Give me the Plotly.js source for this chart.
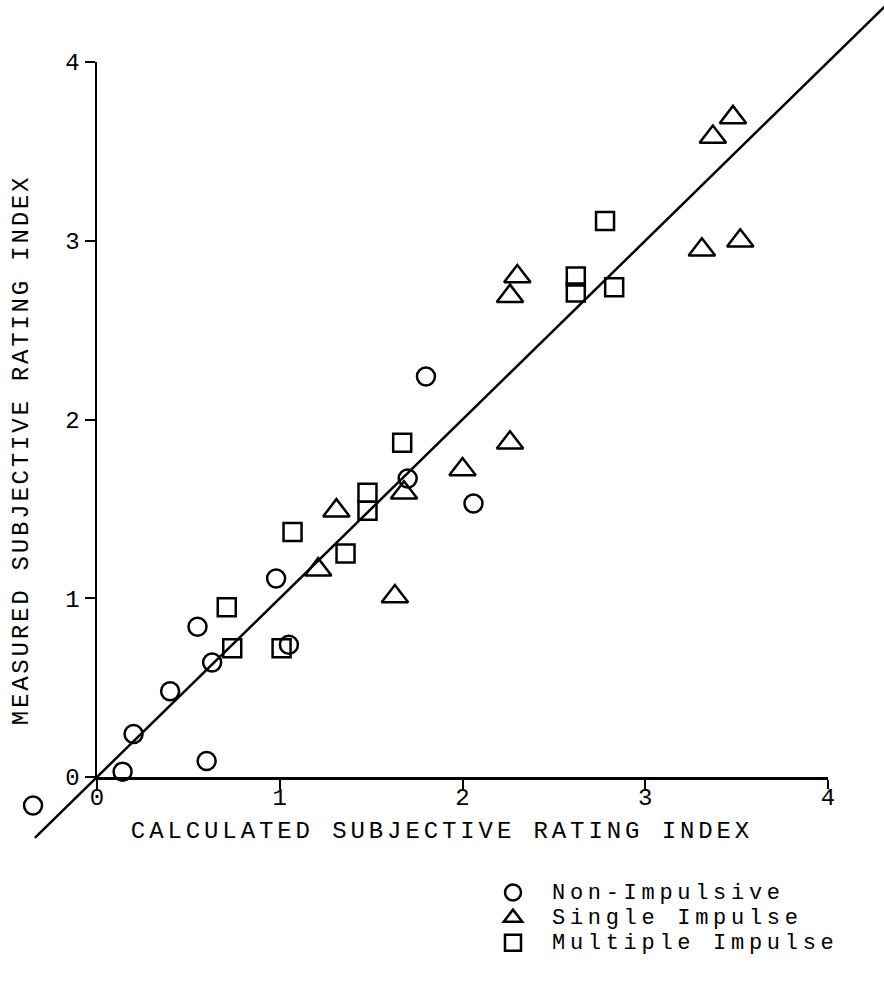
<!DOCTYPE html>
<html>
<head>
<meta charset="utf-8">
<script src="https://cdn.plot.ly/plotly-3.0.1.min.js"></script>
<style>
  html, body { margin: 0; padding: 0; background: #ffffff; }
  #chart { width: 884px; height: 987px; }
  .xtitle { letter-spacing: 3.9px; }
  .ytitle { letter-spacing: 2.8px; }
  .legendtext { letter-spacing: 4.7px; font-size: 22px !important; }
</style>
</head>
<body>
<div id="chart"></div>
<script>
// ---------------- data ----------------
const seriesNames = ["Non-Impulsive", "Single Impulse", "Multiple Impulse"];

const nonImpulsiveX = [-0.35, 0.14, 0.20, 0.40, 0.63, 0.55, 0.60, 0.98, 1.05, 1.80, 1.70, 2.06];
const nonImpulsiveY = [-0.16, 0.03, 0.24, 0.48, 0.64, 0.84, 0.09, 1.11, 0.74, 2.24, 1.67, 1.53];

const singleImpulseX = [1.21, 1.31, 1.63, 1.68, 2.00, 2.26, 2.26, 2.30, 3.31, 3.52, 3.37, 3.48];
const singleImpulseY = [1.16, 1.49, 1.01, 1.59, 1.72, 1.87, 2.69, 2.80, 2.95, 3.00, 3.58, 3.69];

const multipleImpulseX = [0.71, 0.74, 1.01, 1.07, 1.36, 1.48, 1.48, 1.67, 2.62, 2.62, 2.78, 2.83];
const multipleImpulseY = [0.95, 0.72, 0.72, 1.37, 1.25, 1.59, 1.49, 1.87, 2.80, 2.71, 3.11, 2.74];

// line of equality (measured = calculated)
const equalityLineX = [-0.34, 4.33];
const equalityLineY = [-0.34, 4.33];

const tickValues = [0, 1, 2, 3, 4];
const tickLabels = ["0", "1", "2", "3", "4"];

const xTitle = "CALCULATED SUBJECTIVE RATING INDEX";
const yTitle = "MEASURED SUBJECTIVE RATING INDEX";

// ---------------- geometry (pixels) ----------------
const W = 884, H = 987;
const M = { l: 0, r: 0, t: 0, b: 87 };
const PW = W - M.l - M.r, PH = H - M.t - M.b;
const frameLeft = 97, frameRight = 828;   // x = 0 .. 4
const frameBottom = 777, frameTop = 62;   // y = 0 .. 4
const ax = { min: 0, max: 4 };
const pxPerX = (frameRight - frameLeft) / (ax.max - ax.min);
const pxPerY = (frameBottom - frameTop) / (ax.max - ax.min);

const mainXRange = [-frameLeft / pxPerX, (PW - frameLeft) / pxPerX];
const mainYRange = [(frameBottom - PH) / pxPerY, frameBottom / pxPerY];

const font = "Liberation Mono, Courier New, monospace";
const ink = "#000000";

const markerBase = (sym, size) => ({
  symbol: sym, size: size, color: ink,
  line: { color: ink, width: 2.5 }
});

const traces = [
  {
    type: "scatter", mode: "lines", x: equalityLineX, y: equalityLineY,
    line: { color: ink, width: 2.5 }, showlegend: false, hoverinfo: "skip",
    xaxis: "x", yaxis: "y"
  },
  {
    type: "scatter", mode: "markers", name: seriesNames[0],
    x: nonImpulsiveX, y: nonImpulsiveY, marker: markerBase("circle-open", 18),
    xaxis: "x", yaxis: "y"
  },
  {
    type: "scatter", mode: "markers", name: seriesNames[1],
    x: singleImpulseX, y: singleImpulseY, marker: markerBase("triangle-up-open", 23),
    xaxis: "x", yaxis: "y"
  },
  {
    type: "scatter", mode: "markers", name: seriesNames[2],
    x: multipleImpulseX, y: multipleImpulseY, marker: markerBase("square-open", 18),
    xaxis: "x", yaxis: "y"
  },
  {
    type: "scatter", mode: "markers", x: [], y: [], showlegend: false,
    hoverinfo: "skip", xaxis: "x2", yaxis: "y2"
  }
];

const tickFont = { family: font, size: 24, color: ink };

const layout = {
  width: W, height: H,
  margin: M,
  paper_bgcolor: "#ffffff",
  plot_bgcolor: "rgba(0,0,0,0)",
  showlegend: true,
  font: { family: font, color: ink },
  xaxis: {
    domain: [0, 1], range: mainXRange, anchor: "free",
    position: (PH - 815) / PH,
    showline: false, showgrid: false, zeroline: false,
    ticks: "", showticklabels: false, fixedrange: true,
    title: { text: xTitle, font: { family: font, size: 24, color: ink }, standoff: 6 }
  },
  yaxis: {
    domain: [0, 1], range: mainYRange, anchor: "free",
    position: 41 / PW,
    showline: false, showgrid: false, zeroline: false,
    ticks: "", showticklabels: false, fixedrange: true,
    title: { text: yTitle, font: { family: font, size: 24, color: ink }, standoff: 4 }
  },
  xaxis2: {
    domain: [frameLeft / PW, frameRight / PW], range: [ax.min, ax.max],
    anchor: "y2", showline: true, linecolor: ink, linewidth: 2.5,
    showgrid: false, zeroline: false, fixedrange: true,
    ticks: "outside", ticklen: 9, tickwidth: 2, tickcolor: ink,
    ticklabelstandoff: -12,
    tickvals: tickValues, ticktext: tickLabels, tickfont: tickFont
  },
  yaxis2: {
    domain: [(PH - frameBottom) / PH, (PH - frameTop) / PH], range: [ax.min, ax.max],
    anchor: "x2", showline: true, linecolor: ink, linewidth: 2.5,
    showgrid: false, zeroline: false, fixedrange: true,
    ticks: "outside", ticklen: 10, tickwidth: 2, tickcolor: ink,
    tickvals: tickValues, ticktext: tickLabels, tickfont: tickFont
  },
  legend: {
    x: 474 / PW, xanchor: "left",
    y: (PH - 875) / PH, yanchor: "top",
    bgcolor: "rgba(0,0,0,0)", borderwidth: 0,
    itemwidth: 68, tracegroupgap: 0,
    font: { family: font, size: 17, color: ink }
  }
};

Plotly.newPlot("chart", traces, layout, { displayModeBar: false, staticPlot: true });
</script>
</body>
</html>
